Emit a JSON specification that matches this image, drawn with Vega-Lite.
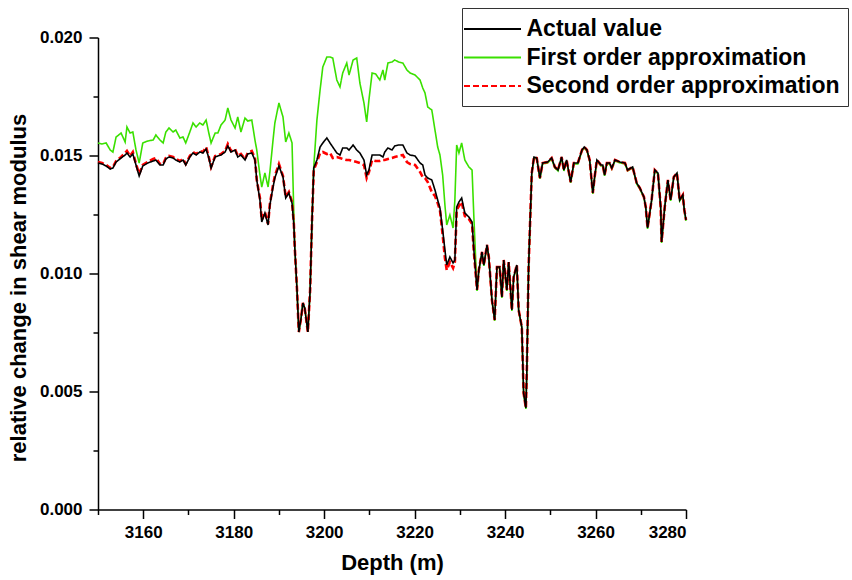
{
  "$schema": "https://vega.github.io/schema/vega-lite/v6.json",
  "autosize": {"type": "none"},
  "width": 588,
  "height": 472,
  "padding": {"left": 98, "top": 37.5, "right": 166, "bottom": 70.5},
  "background": "white",
  "config": {"view": {"stroke": null}, "font": "Liberation Sans"},
  "data": {"values": [
    {"d":3150.0,"A":0.014682,"F":0.015530,"S":0.014725},
    {"d":3150.9,"A":0.014640,"F":0.015487,"S":0.014682},
    {"d":3151.8,"A":0.014555,"F":0.015530,"S":0.014597},
    {"d":3152.7,"A":0.014428,"F":0.015233,"S":0.014470},
    {"d":3153.3,"A":0.014470,"F":0.015148,"S":0.014513},
    {"d":3154.0,"A":0.014725,"F":0.015784,"S":0.014767},
    {"d":3155.1,"A":0.014894,"F":0.015953,"S":0.014936},
    {"d":3156.0,"A":0.015021,"F":0.015572,"S":0.015106},
    {"d":3156.4,"A":0.015106,"F":0.016208,"S":0.015191},
    {"d":3157.1,"A":0.014936,"F":0.015953,"S":0.014979},
    {"d":3157.7,"A":0.015064,"F":0.015996,"S":0.015148},
    {"d":3158.4,"A":0.014597,"F":0.015233,"S":0.014640},
    {"d":3159.1,"A":0.014131,"F":0.014682,"S":0.014216},
    {"d":3159.9,"A":0.014555,"F":0.015530,"S":0.014597},
    {"d":3161.0,"A":0.014682,"F":0.015614,"S":0.014725},
    {"d":3162.2,"A":0.014767,"F":0.015657,"S":0.014852},
    {"d":3162.8,"A":0.014809,"F":0.015869,"S":0.014894},
    {"d":3163.7,"A":0.014597,"F":0.015657,"S":0.014640},
    {"d":3164.4,"A":0.014597,"F":0.015530,"S":0.014640},
    {"d":3165.0,"A":0.014852,"F":0.015996,"S":0.014894},
    {"d":3165.7,"A":0.014936,"F":0.016165,"S":0.014979},
    {"d":3166.6,"A":0.014894,"F":0.015996,"S":0.014936},
    {"d":3167.2,"A":0.014809,"F":0.016081,"S":0.014852},
    {"d":3168.1,"A":0.014725,"F":0.015742,"S":0.014767},
    {"d":3168.8,"A":0.014809,"F":0.015784,"S":0.014852},
    {"d":3169.4,"A":0.014597,"F":0.015530,"S":0.014640},
    {"d":3170.3,"A":0.014936,"F":0.015996,"S":0.014979},
    {"d":3171.0,"A":0.015106,"F":0.016377,"S":0.015148},
    {"d":3171.7,"A":0.015021,"F":0.016208,"S":0.015064},
    {"d":3172.5,"A":0.015148,"F":0.016377,"S":0.015191},
    {"d":3173.2,"A":0.015106,"F":0.016292,"S":0.015148},
    {"d":3173.9,"A":0.015275,"F":0.016504,"S":0.015360},
    {"d":3174.5,"A":0.014894,"F":0.015953,"S":0.014936},
    {"d":3175.0,"A":0.014470,"F":0.015530,"S":0.014513},
    {"d":3175.9,"A":0.014936,"F":0.015953,"S":0.014979},
    {"d":3176.5,"A":0.014979,"F":0.015953,"S":0.015021},
    {"d":3177.2,"A":0.015021,"F":0.016292,"S":0.015064},
    {"d":3178.1,"A":0.015148,"F":0.016504,"S":0.015191},
    {"d":3178.7,"A":0.015403,"F":0.017013,"S":0.015487},
    {"d":3179.4,"A":0.015148,"F":0.016504,"S":0.015191},
    {"d":3180.3,"A":0.015233,"F":0.016165,"S":0.015275},
    {"d":3180.9,"A":0.014936,"F":0.016631,"S":0.014979},
    {"d":3181.6,"A":0.015021,"F":0.015996,"S":0.015064},
    {"d":3182.5,"A":0.014809,"F":0.016589,"S":0.014852},
    {"d":3183.1,"A":0.015064,"F":0.016462,"S":0.015106},
    {"d":3184.0,"A":0.015106,"F":0.016504,"S":0.015191},
    {"d":3184.7,"A":0.014809,"F":0.015657,"S":0.014894},
    {"d":3185.1,"A":0.013962,"F":0.015233,"S":0.013962},
    {"d":3185.8,"A":0.013114,"F":0.014174,"S":0.013199},
    {"d":3186.2,"A":0.012182,"F":0.013665,"S":0.012267},
    {"d":3186.9,"A":0.012564,"F":0.014258,"S":0.012606},
    {"d":3187.6,"A":0.012055,"F":0.013665,"S":0.012097},
    {"d":3188.0,"A":0.012903,"F":0.014301,"S":0.012945},
    {"d":3188.7,"A":0.013665,"F":0.015657,"S":0.013750},
    {"d":3189.1,"A":0.014047,"F":0.016377,"S":0.014131},
    {"d":3190.0,"A":0.014555,"F":0.017225,"S":0.014640},
    {"d":3190.9,"A":0.014089,"F":0.016631,"S":0.014131},
    {"d":3191.5,"A":0.013199,"F":0.015572,"S":0.013242},
    {"d":3192.2,"A":0.013411,"F":0.015953,"S":0.013453},
    {"d":3192.9,"A":0.012987,"F":0.015530,"S":0.013030},
    {"d":3193.3,"A":0.012055,"F":0.012479,"S":0.012097},
    {"d":3193.5,"A":0.011123,"F":0.011123,"S":0.011123},
    {"d":3194.0,"A":0.009301,"F":0.009301,"S":0.009301},
    {"d":3194.4,"A":0.007521,"F":0.007521,"S":0.007521},
    {"d":3194.9,"A":0.008114,"F":0.008114,"S":0.008114},
    {"d":3195.3,"A":0.008750,"F":0.008750,"S":0.008750},
    {"d":3195.7,"A":0.008538,"F":0.008538,"S":0.008538},
    {"d":3196.4,"A":0.007521,"F":0.007521,"S":0.007521},
    {"d":3196.9,"A":0.009301,"F":0.009301,"S":0.009301},
    {"d":3197.3,"A":0.012140,"F":0.012140,"S":0.012140},
    {"d":3197.7,"A":0.014470,"F":0.014513,"S":0.014386},
    {"d":3198.4,"A":0.014809,"F":0.016504,"S":0.014725},
    {"d":3199.1,"A":0.015360,"F":0.017775,"S":0.015106},
    {"d":3199.7,"A":0.015530,"F":0.018750,"S":0.015148},
    {"d":3200.6,"A":0.015742,"F":0.019174,"S":0.015064},
    {"d":3201.3,"A":0.015530,"F":0.019174,"S":0.015106},
    {"d":3201.9,"A":0.015360,"F":0.019131,"S":0.014894},
    {"d":3202.8,"A":0.015106,"F":0.018199,"S":0.014936},
    {"d":3203.5,"A":0.015021,"F":0.017903,"S":0.014894},
    {"d":3204.1,"A":0.015318,"F":0.018496,"S":0.014852},
    {"d":3205.0,"A":0.015318,"F":0.018919,"S":0.014809},
    {"d":3205.5,"A":0.015233,"F":0.018411,"S":0.014809},
    {"d":3206.4,"A":0.015445,"F":0.019047,"S":0.014767},
    {"d":3207.2,"A":0.015233,"F":0.019131,"S":0.014725},
    {"d":3207.9,"A":0.015106,"F":0.018072,"S":0.014682},
    {"d":3208.8,"A":0.014809,"F":0.017225,"S":0.014597},
    {"d":3209.4,"A":0.014174,"F":0.016419,"S":0.014047},
    {"d":3209.9,"A":0.014386,"F":0.017352,"S":0.014301},
    {"d":3210.6,"A":0.015021,"F":0.018496,"S":0.014809},
    {"d":3211.4,"A":0.015021,"F":0.018453,"S":0.014767},
    {"d":3212.3,"A":0.015021,"F":0.018199,"S":0.014767},
    {"d":3213.0,"A":0.014936,"F":0.018623,"S":0.014809},
    {"d":3213.4,"A":0.015148,"F":0.018199,"S":0.014809},
    {"d":3214.1,"A":0.015318,"F":0.018919,"S":0.014852},
    {"d":3215.0,"A":0.015233,"F":0.018962,"S":0.014894},
    {"d":3215.6,"A":0.015403,"F":0.019047,"S":0.014936},
    {"d":3216.5,"A":0.015445,"F":0.018962,"S":0.014979},
    {"d":3217.4,"A":0.015445,"F":0.018919,"S":0.015021},
    {"d":3218.3,"A":0.015106,"F":0.018623,"S":0.014725},
    {"d":3219.0,"A":0.015021,"F":0.018496,"S":0.014640},
    {"d":3220.1,"A":0.014979,"F":0.018411,"S":0.014597},
    {"d":3221.2,"A":0.014682,"F":0.018199,"S":0.014301},
    {"d":3221.8,"A":0.014597,"F":0.017860,"S":0.014089},
    {"d":3222.3,"A":0.014174,"F":0.017648,"S":0.014047},
    {"d":3222.9,"A":0.014047,"F":0.017055,"S":0.013877},
    {"d":3223.8,"A":0.013962,"F":0.016928,"S":0.013453},
    {"d":3224.5,"A":0.013538,"F":0.016081,"S":0.013284},
    {"d":3225.1,"A":0.013114,"F":0.015360,"S":0.012987},
    {"d":3225.6,"A":0.012775,"F":0.015021,"S":0.012691},
    {"d":3226.2,"A":0.011843,"F":0.014174,"S":0.011631},
    {"d":3226.7,"A":0.010996,"F":0.012903,"S":0.010657},
    {"d":3227.1,"A":0.010360,"F":0.012055,"S":0.010148},
    {"d":3227.8,"A":0.010699,"F":0.012479,"S":0.010487},
    {"d":3228.5,"A":0.010445,"F":0.011928,"S":0.010233},
    {"d":3228.9,"A":0.010572,"F":0.013114,"S":0.010487},
    {"d":3229.3,"A":0.012818,"F":0.015445,"S":0.012691},
    {"d":3229.8,"A":0.013030,"F":0.015106,"S":0.012860},
    {"d":3230.4,"A":0.013199,"F":0.015530,"S":0.013030},
    {"d":3231.1,"A":0.012564,"F":0.014809,"S":0.012436},
    {"d":3232.0,"A":0.012394,"F":0.014513,"S":0.012309},
    {"d":3232.7,"A":0.012182,"F":0.014386,"S":0.012097},
    {"d":3233.1,"A":0.010996,"F":0.012394,"S":0.010911},
    {"d":3233.8,"A":0.009301,"F":0.009261,"S":0.009301},
    {"d":3234.2,"A":0.010148,"F":0.010108,"S":0.010148},
    {"d":3234.9,"A":0.010911,"F":0.010871,"S":0.010911},
    {"d":3235.3,"A":0.010360,"F":0.010320,"S":0.010360},
    {"d":3236.0,"A":0.011208,"F":0.011168,"S":0.011208},
    {"d":3236.4,"A":0.010699,"F":0.010659,"S":0.010699},
    {"d":3237.1,"A":0.008877,"F":0.008837,"S":0.008877},
    {"d":3237.7,"A":0.008030,"F":0.007990,"S":0.008030},
    {"d":3238.2,"A":0.010275,"F":0.010235,"S":0.010275},
    {"d":3238.8,"A":0.010275,"F":0.010235,"S":0.010275},
    {"d":3239.3,"A":0.009004,"F":0.008964,"S":0.009004},
    {"d":3239.7,"A":0.010572,"F":0.010532,"S":0.010572},
    {"d":3240.4,"A":0.009301,"F":0.009261,"S":0.009301},
    {"d":3240.8,"A":0.010487,"F":0.010447,"S":0.010487},
    {"d":3241.5,"A":0.008453,"F":0.008413,"S":0.008453},
    {"d":3241.9,"A":0.009852,"F":0.009812,"S":0.009852},
    {"d":3242.6,"A":0.010360,"F":0.010320,"S":0.010360},
    {"d":3243.0,"A":0.008453,"F":0.008413,"S":0.008453},
    {"d":3243.7,"A":0.007733,"F":0.007693,"S":0.007733},
    {"d":3244.1,"A":0.004936,"F":0.004896,"S":0.004936},
    {"d":3244.6,"A":0.004301,"F":0.004261,"S":0.004301},
    {"d":3244.8,"A":0.005784,"F":0.005744,"S":0.005784},
    {"d":3245.2,"A":0.010275,"F":0.010235,"S":0.010275},
    {"d":3245.9,"A":0.014258,"F":0.014218,"S":0.014258},
    {"d":3246.4,"A":0.014936,"F":0.014896,"S":0.014936},
    {"d":3247.0,"A":0.014894,"F":0.014854,"S":0.014894},
    {"d":3247.7,"A":0.014047,"F":0.014007,"S":0.014047},
    {"d":3248.3,"A":0.014682,"F":0.014642,"S":0.014682},
    {"d":3249.4,"A":0.014725,"F":0.014685,"S":0.014725},
    {"d":3250.3,"A":0.014894,"F":0.014854,"S":0.014894},
    {"d":3251.0,"A":0.014513,"F":0.014473,"S":0.014513},
    {"d":3251.7,"A":0.014386,"F":0.014346,"S":0.014386},
    {"d":3252.5,"A":0.014936,"F":0.014896,"S":0.014936},
    {"d":3253.0,"A":0.014386,"F":0.014346,"S":0.014386},
    {"d":3253.6,"A":0.014809,"F":0.014769,"S":0.014809},
    {"d":3254.5,"A":0.013877,"F":0.013837,"S":0.013877},
    {"d":3255.2,"A":0.014682,"F":0.014642,"S":0.014682},
    {"d":3256.1,"A":0.014682,"F":0.014642,"S":0.014682},
    {"d":3257.0,"A":0.015233,"F":0.015193,"S":0.015233},
    {"d":3257.5,"A":0.015360,"F":0.015320,"S":0.015360},
    {"d":3258.1,"A":0.015233,"F":0.015193,"S":0.015233},
    {"d":3258.7,"A":0.014809,"F":0.014769,"S":0.014809},
    {"d":3259.4,"A":0.013411,"F":0.013371,"S":0.013411},
    {"d":3259.8,"A":0.014089,"F":0.014049,"S":0.014089},
    {"d":3260.3,"A":0.014809,"F":0.014769,"S":0.014809},
    {"d":3261.2,"A":0.014597,"F":0.014557,"S":0.014597},
    {"d":3261.6,"A":0.014597,"F":0.014557,"S":0.014597},
    {"d":3262.0,"A":0.014174,"F":0.014134,"S":0.014174},
    {"d":3262.5,"A":0.014682,"F":0.014642,"S":0.014682},
    {"d":3263.1,"A":0.014682,"F":0.014642,"S":0.014682},
    {"d":3263.6,"A":0.014470,"F":0.014430,"S":0.014470},
    {"d":3264.3,"A":0.014809,"F":0.014769,"S":0.014809},
    {"d":3265.4,"A":0.014725,"F":0.014685,"S":0.014725},
    {"d":3266.5,"A":0.014682,"F":0.014642,"S":0.014682},
    {"d":3267.1,"A":0.014386,"F":0.014346,"S":0.014386},
    {"d":3268.2,"A":0.014513,"F":0.014473,"S":0.014513},
    {"d":3269.1,"A":0.013835,"F":0.013795,"S":0.013835},
    {"d":3269.8,"A":0.013623,"F":0.013583,"S":0.013623},
    {"d":3270.7,"A":0.013242,"F":0.013202,"S":0.013242},
    {"d":3271.1,"A":0.012818,"F":0.012778,"S":0.012818},
    {"d":3271.5,"A":0.011928,"F":0.011888,"S":0.011928},
    {"d":3272.4,"A":0.013114,"F":0.013074,"S":0.013114},
    {"d":3273.1,"A":0.014386,"F":0.014346,"S":0.014386},
    {"d":3273.8,"A":0.014258,"F":0.014218,"S":0.014258},
    {"d":3274.4,"A":0.012818,"F":0.012778,"S":0.012818},
    {"d":3274.6,"A":0.011335,"F":0.011295,"S":0.011335},
    {"d":3275.3,"A":0.012818,"F":0.012778,"S":0.012818},
    {"d":3276.0,"A":0.013962,"F":0.013922,"S":0.013962},
    {"d":3276.6,"A":0.013114,"F":0.013074,"S":0.013114},
    {"d":3277.3,"A":0.014089,"F":0.014049,"S":0.014089},
    {"d":3278.0,"A":0.014258,"F":0.014218,"S":0.014258},
    {"d":3278.6,"A":0.013114,"F":0.013074,"S":0.013114},
    {"d":3279.3,"A":0.013326,"F":0.013286,"S":0.013326},
    {"d":3279.6,"A":0.012733,"F":0.012693,"S":0.012733},
    {"d":3280.0,"A":0.012267,"F":0.012227,"S":0.012267}
  ]},
  "transform": [{"fold": ["A", "F", "S"], "as": ["series", "value"]}],
  "encoding": {
    "x": {
      "field": "d", "type": "quantitative",
      "scale": {"domain": [3150, 3280], "nice": false, "zero": false},
      "axis": {
        "values": [3150, 3160, 3170, 3180, 3190, 3200, 3210, 3220, 3230, 3240, 3250, 3260, 3270, 3280],
        "labelExpr": "(datum.value - 3160) % 20 == 0 ? format(datum.value, 'd') : ''",
        "tickSize": {"condition": {"test": "(datum.value - 3160) % 20 == 0", "value": 9}, "value": 5},
        "grid": false,
        "domainColor": "black", "domainWidth": 1.5,
        "tickColor": "black", "tickWidth": 1.5,
        "labelFont": "Liberation Sans", "labelFontSize": 17, "labelFontWeight": "bold", "labelColor": "black",
        "labelPadding": 6,
        "title": "Depth (m)",
        "titleFont": "Liberation Sans", "titleFontSize": 22, "titleFontWeight": "bold", "titleColor": "black",
        "titlePadding": 12
      }
    },
    "y": {
      "field": "value", "type": "quantitative",
      "scale": {"domain": [0, 0.02], "nice": false},
      "axis": {
        "values": [0, 0.0025, 0.005, 0.0075, 0.01, 0.0125, 0.015, 0.0175, 0.02],
        "labelExpr": "abs(datum.value * 200 - round(datum.value * 200)) < 0.001 ? format(datum.value, '.3f') : ''",
        "tickSize": {"condition": {"test": "abs(datum.value * 200 - round(datum.value * 200)) < 0.001", "value": 9}, "value": 5},
        "grid": false,
        "domainColor": "black", "domainWidth": 1.5,
        "tickColor": "black", "tickWidth": 1.5,
        "labelFont": "Liberation Sans", "labelFontSize": 17, "labelFontWeight": "bold", "labelColor": "black",
        "labelPadding": 7,
        "title": "relative change in shear modulus",
        "titleFont": "Liberation Sans", "titleFontSize": 22, "titleFontWeight": "bold", "titleColor": "black",
        "titlePadding": 9,
        "titleY": 250
      }
    },
    "color": {
      "field": "series", "type": "nominal",
      "scale": {"domain": ["A", "F", "S"], "range": ["#000000", "#3ae000", "#ff0000"]},
      "legend": {
        "title": null,
        "orient": "none",
        "legendX": 364,
        "legendY": -29.5,
        "direction": "vertical",
        "fillColor": "white",
        "strokeColor": "#333333",
        "padding": 8,
        "symbolType": "M-2.375,0H2.375",
        "symbolSize": 576,
        "symbolStrokeWidth": 2,
        "symbolOffset": 9.5,
        "labelFont": "Liberation Sans",
        "labelFontSize": 23,
        "labelFontWeight": "bold",
        "labelColor": "black",
        "labelOffset": 21,
        "labelLimit": 0,
        "rowPadding": 3.5,
        "labelExpr": "datum.label == 'A' ? 'Actual value' : datum.label == 'F' ? 'First order approximation' : 'Second order approximation'"
      }
    },
    "strokeDash": {
      "field": "series", "type": "nominal",
      "scale": {"domain": ["A", "F", "S"], "range": [[1, 0], [1, 0], [6, 3]]}
    }
  },
  "layer": [
    {"transform": [{"filter": "datum.series == 'F'"}], "mark": {"type": "line", "strokeWidth": 1.6}},
    {"transform": [{"filter": "datum.series == 'S'"}], "mark": {"type": "line", "strokeWidth": 2.6}},
    {"transform": [{"filter": "datum.series == 'A'"}], "mark": {"type": "line", "strokeWidth": 1.6}}
  ]
}
